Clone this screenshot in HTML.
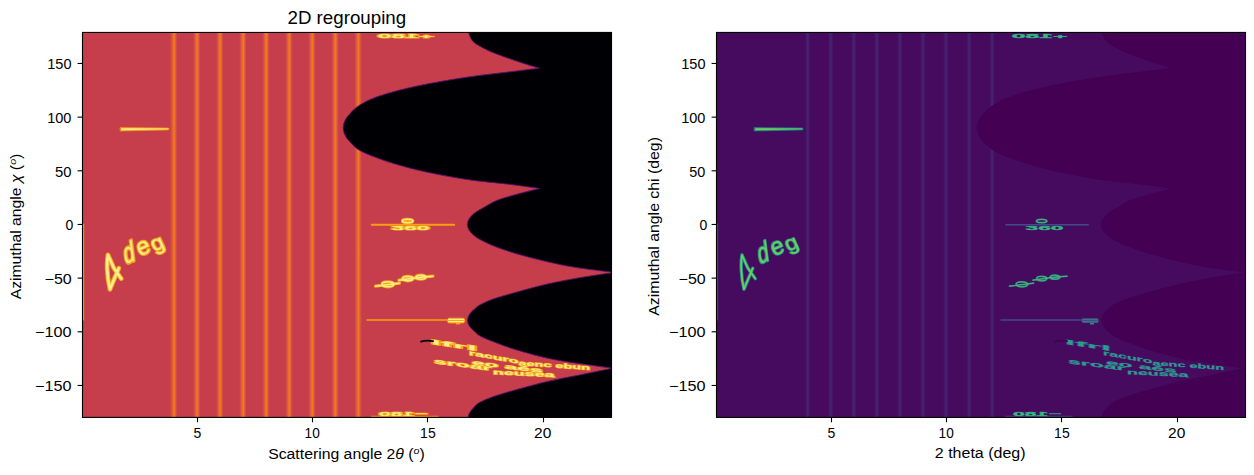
<!DOCTYPE html><html><head><meta charset="utf-8"><style>html,body{margin:0;padding:0;background:#fff;}svg{display:block;}text{font-family:"Liberation Sans",sans-serif;fill:#000;}</style></head><body>
<svg width="1254" height="475" viewBox="0 0 1254 475">
<defs>
<clipPath id="c1"><rect x="82.5" y="32.5" width="529" height="385"/></clipPath>
<clipPath id="c2"><rect x="716.5" y="32.5" width="529" height="385"/></clipPath>
<linearGradient id="gL" x1="0" x2="1" y1="0" y2="0"><stop offset="0" stop-color="#c63e4c"/><stop offset="0.22" stop-color="#d75247"/><stop offset="0.42" stop-color="#ec6c26"/><stop offset="0.58" stop-color="#f37a1a"/><stop offset="0.78" stop-color="#d9574a"/><stop offset="1" stop-color="#c63e4c"/></linearGradient>
<linearGradient id="gR" x1="0" x2="1" y1="0" y2="0"><stop offset="0" stop-color="#460b5e"/><stop offset="0.3" stop-color="#47186a"/><stop offset="0.5" stop-color="#482575"/><stop offset="0.7" stop-color="#47186a"/><stop offset="1" stop-color="#460b5e"/></linearGradient>
</defs>
<g clip-path="url(#c1)">
<rect x="82" y="32" width="531" height="387" fill="#c63e4c"/>
<rect x="170.00" y="30" width="7.4" height="390" fill="url(#gL)"/>
<rect x="193.05" y="30" width="7.4" height="390" fill="url(#gL)"/>
<rect x="216.10" y="30" width="7.4" height="390" fill="url(#gL)"/>
<rect x="239.15" y="30" width="7.4" height="390" fill="url(#gL)"/>
<rect x="262.20" y="30" width="7.4" height="390" fill="url(#gL)"/>
<rect x="285.25" y="30" width="7.4" height="390" fill="url(#gL)"/>
<rect x="308.30" y="30" width="7.4" height="390" fill="url(#gL)"/>
<rect x="331.35" y="30" width="7.4" height="390" fill="url(#gL)"/>
<rect x="354.40" y="30" width="7.4" height="390" fill="url(#gL)"/>
<path d="M700,20 L468.2,20 C468.22,21.33 468.23,26.00 468.30,28.00 C468.37,30.00 468.32,30.58 468.60,32.00 C468.88,33.42 469.27,34.92 470.00,36.50 C470.73,38.08 471.50,39.97 473.00,41.50 C474.50,43.03 475.90,43.95 479.00,45.70 C482.10,47.45 486.70,49.90 491.60,52.00 C496.50,54.10 502.08,56.08 508.40,58.30 C514.72,60.52 524.32,63.65 529.50,65.30 C534.68,66.95 537.83,67.72 539.50,68.20 C534.32,68.83 520.60,70.48 508.40,72.00 C496.20,73.52 480.33,75.20 466.30,77.30 C452.27,79.40 436.48,82.15 424.20,84.60 C411.92,87.05 401.37,89.62 392.60,92.00 C383.83,94.38 377.48,96.45 371.60,98.90 C365.72,101.35 361.22,103.88 357.30,106.70 C353.38,109.52 349.99,113.78 348.10,115.80 C346.20,117.82 346.57,117.80 345.95,118.80 C345.34,119.80 344.83,120.80 344.42,121.80 C344.02,122.80 343.71,123.80 343.51,124.80 C343.30,125.80 343.20,126.80 343.20,127.80 C343.20,128.80 343.30,129.80 343.51,130.80 C343.71,131.80 344.02,132.80 344.42,133.80 C344.83,134.80 345.34,135.80 345.95,136.80 C346.57,137.80 346.20,137.78 348.10,139.80 C349.99,141.82 353.38,146.23 357.30,148.90 C361.22,151.57 365.72,153.42 371.60,155.80 C377.48,158.18 383.83,160.57 392.60,163.20 C401.37,165.83 411.92,168.90 424.20,171.60 C436.48,174.30 452.27,177.30 466.30,179.40 C480.33,181.50 496.20,182.70 508.40,184.20 C520.60,185.70 534.32,187.70 539.50,188.40 C536.08,189.28 525.93,191.77 519.00,193.70 C512.07,195.63 503.77,197.72 497.90,200.00 C492.03,202.28 487.56,205.32 483.80,207.40 C480.04,209.48 477.31,211.15 475.32,212.50 C473.33,213.85 472.84,214.50 471.85,215.50 C470.86,216.50 470.04,217.50 469.38,218.50 C468.72,219.50 468.22,220.50 467.89,221.50 C467.56,222.50 467.40,223.50 467.40,224.50 C467.40,225.50 467.56,226.50 467.89,227.50 C468.22,228.50 468.72,229.50 469.38,230.50 C470.04,231.50 470.86,232.50 471.85,233.50 C472.84,234.50 474.05,235.55 475.32,236.50 C476.59,237.45 476.62,237.70 479.50,239.20 C482.38,240.70 486.90,243.22 492.60,245.50 C498.30,247.78 504.92,250.27 513.70,252.90 C522.48,255.53 534.78,258.85 545.30,261.30 C555.82,263.75 565.35,265.75 576.80,267.60 C588.25,269.45 607.80,271.60 614.00,272.40 C607.80,273.37 588.25,276.18 576.80,278.20 C565.35,280.22 555.82,282.05 545.30,284.50 C534.78,286.95 522.48,290.45 513.70,292.90 C504.92,295.35 498.35,297.13 492.60,299.20 C486.85,301.27 482.05,303.78 479.20,305.30 C476.35,306.82 476.71,307.30 475.52,308.30 C474.33,309.30 473.05,310.30 472.06,311.30 C471.06,312.30 470.24,313.30 469.58,314.30 C468.92,315.30 468.43,316.30 468.10,317.30 C467.77,318.30 467.60,319.30 467.60,320.30 C467.60,321.30 467.77,322.30 468.10,323.30 C468.43,324.30 468.92,325.30 469.58,326.30 C470.24,327.30 471.06,328.30 472.06,329.30 C473.05,330.30 474.20,331.18 475.52,332.30 C476.84,333.42 476.89,334.37 480.00,336.00 C483.11,337.63 488.22,339.82 494.20,342.10 C500.18,344.38 506.85,346.98 515.90,349.70 C524.95,352.42 537.65,356.05 548.50,358.40 C559.35,360.75 570.33,362.17 581.00,363.80 C591.67,365.43 607.25,367.47 612.50,368.20 C607.25,369.28 591.67,372.53 581.00,374.70 C570.33,376.87 559.35,378.68 548.50,381.20 C537.65,383.72 524.95,387.28 515.90,389.80 C506.85,392.32 500.35,394.13 494.20,396.30 C488.05,398.47 482.53,400.77 479.00,402.80 C475.47,404.83 474.53,406.88 473.00,408.50 C471.47,410.12 470.57,411.08 469.80,412.50 C469.03,413.92 468.67,414.08 468.40,417.00 C468.13,419.92 468.23,427.83 468.20,430.00 L700,430 Z" fill="#000004" stroke="#5a1070" stroke-width="0.9"/>
<g transform="translate(0,0)" stroke-linecap="round" stroke-linejoin="round" fill="none">
<path d="M120.4,127.6 L168.6,128.0 Q169.6,128.9 168.6,129.9 L120.4,131.0 Z" fill="#f8a516" stroke="#f8a516" stroke-width="0.6"/>
<path d="M121.3,128.3 L167.8,128.5 L167.8,129.3 L121.3,130.3 Z" fill="#f7ee8a" stroke="none"/>
<path d="M83.6,224 L83.6,320" stroke="#f9a00f" stroke-width="1.1"/>
<path d="M108.0,255.0 C106.6,262 106.8,277 110.0,289.2 M108.0,255.0 L113.8,268 L121.2,278.6 M110.0,289.2 L114.2,279 L118.8,268.2" stroke="#f8a516" stroke-width="4.8"/>
<path d="M108.0,255.0 C106.6,262 106.8,277 110.0,289.2 M108.0,255.0 L113.8,268 L121.2,278.6 M110.0,289.2 L114.2,279 L118.8,268.2" stroke="#f7ee8a" stroke-width="2.7"/>
<text transform="translate(125.0,264.2) scale(1,1.5) rotate(-14) skewX(-3)" font-size="19.5" style="fill:#f7ee8a;stroke:#f8a516;stroke-width:2.3;paint-order:stroke">d</text>
<text transform="translate(139.8,256.5) scale(1.05,1.12) rotate(-22)" font-size="22" style="fill:#f7ee8a;stroke:#f8a516;stroke-width:2.3;paint-order:stroke">e</text>
<text transform="translate(154.0,251.5) scale(1.05,0.93) rotate(-22)" font-size="22" style="fill:#f7ee8a;stroke:#f8a516;stroke-width:2.3;paint-order:stroke">g</text>
<text transform="translate(405.6,37.6) scale(-1,0.42)" font-size="14" font-weight="bold" text-anchor="middle" textLength="56" lengthAdjust="spacingAndGlyphs" style="fill:#f7ee8a;stroke:#f8a516;stroke-width:2.56;paint-order:stroke">+180</text>
<path d="M371.5,416.3 L438.2,416.3" stroke="#f9a00f" stroke-width="1.0"/>
<text transform="translate(402.8,416.4) scale(-1,0.44)" font-size="14" font-weight="bold" text-anchor="middle" textLength="48" lengthAdjust="spacingAndGlyphs" style="fill:#f7ee8a;stroke:#f8a516;stroke-width:2.56;paint-order:stroke">−180</text>
<path d="M371.8,224.8 L454.2,224.8" stroke="#f9a00f" stroke-width="1.9"/>
<ellipse cx="407.6" cy="221.0" rx="5.2" ry="1.7" stroke="#f8a516" stroke-width="3.1999999999999997"/>
<ellipse cx="407.6" cy="221.0" rx="5.2" ry="1.7" stroke="#f7ee8a" stroke-width="1.6"/>
<text transform="translate(410.5,229.6) scale(1,0.42)" font-size="14" font-weight="bold" text-anchor="middle" textLength="38" lengthAdjust="spacingAndGlyphs" style="fill:#f7ee8a;stroke:#f8a516;stroke-width:2.56;paint-order:stroke">360</text>
<path d="M375.5,286.2 L399.5,283.2 M394,284.3 A6,2.5 0 1 0 382,284.3 A6,2.5 0 1 0 394,284.3 M399,280.2 Q416,277.2 433,276.2 M413,278.6 A5.2,2.2 0 1 0 402.6,278.6 A5.2,2.2 0 1 0 413,278.6 M426,277.2 A5,2 0 1 0 416,277.2 A5,2 0 1 0 426,277.2" stroke="#f8a516" stroke-width="3.1999999999999997"/>
<path d="M375.5,286.2 L399.5,283.2 M394,284.3 A6,2.5 0 1 0 382,284.3 A6,2.5 0 1 0 394,284.3 M399,280.2 Q416,277.2 433,276.2 M413,278.6 A5.2,2.2 0 1 0 402.6,278.6 A5.2,2.2 0 1 0 413,278.6 M426,277.2 A5,2 0 1 0 416,277.2 A5,2 0 1 0 426,277.2" stroke="#f7ee8a" stroke-width="1.5000000000000002"/>
<path d="M367,320.1 L447,320.1" stroke="#f9a00f" stroke-width="1.5"/>
<rect x="447.4" y="318.2" width="17.4" height="4.8" rx="2.2" fill="#f8a516" stroke="#f8a516" stroke-width="0.8"/>
<path d="M448.6,319.3 L463.6,319.3 M448.6,321.7 L463.6,321.7" stroke="#f7ee8a" stroke-width="1.3000000000000003"/>
<path d="M456.5,323.8 L459.5,323.8" stroke="#f8a516" stroke-width="1.4"/>
<text transform="translate(431,344.0) skewY(8.65) scale(1,0.45)" font-size="15" font-weight="bold" textLength="46.0" lengthAdjust="spacingAndGlyphs" style="fill:#f7ee8a;stroke:#f8a516;stroke-width:2.2;paint-order:stroke">Ifrl</text>
<text transform="translate(469,355.0) skewY(9.86) scale(1,0.45)" font-size="15" font-weight="bold" textLength="49.5" lengthAdjust="spacingAndGlyphs" style="fill:#f7ee8a;stroke:#f8a516;stroke-width:2.2;paint-order:stroke">racuro</text>
<text transform="translate(518.5,365.2) skewY(3.84) scale(1,0.45)" font-size="15" font-weight="bold" textLength="71.5" lengthAdjust="spacingAndGlyphs" style="fill:#f7ee8a;stroke:#f8a516;stroke-width:2.2;paint-order:stroke">aenc ebun</text>
<text transform="translate(434,363.2) skewY(7.53) scale(1,0.45)" font-size="15" font-weight="bold" textLength="57.5" lengthAdjust="spacingAndGlyphs" style="fill:#f7ee8a;stroke:#f8a516;stroke-width:2.2;paint-order:stroke">sroar</text>
<text transform="translate(472,364.6) skewY(6.79) scale(1,0.45)" font-size="15" font-weight="bold" textLength="70.5" lengthAdjust="spacingAndGlyphs" style="fill:#f7ee8a;stroke:#f8a516;stroke-width:2.2;paint-order:stroke">eo aés</text>
<text transform="translate(493,374.2) skewY(2.79) scale(1,0.45)" font-size="15" font-weight="bold" textLength="61.5" lengthAdjust="spacingAndGlyphs" style="fill:#f7ee8a;stroke:#f8a516;stroke-width:2.2;paint-order:stroke">neusea</text>
<path d="M421,341.6 Q427,340.0 433,341.2" stroke="#000004" stroke-width="1.8"/>
</g>
</g>
<g clip-path="url(#c2)">
<rect x="716" y="32" width="531" height="387" fill="#460b5e"/>
<rect x="804.90" y="30" width="5.6" height="390" fill="url(#gR)"/>
<rect x="827.95" y="30" width="5.6" height="390" fill="url(#gR)"/>
<rect x="851.00" y="30" width="5.6" height="390" fill="url(#gR)"/>
<rect x="874.05" y="30" width="5.6" height="390" fill="url(#gR)"/>
<rect x="897.10" y="30" width="5.6" height="390" fill="url(#gR)"/>
<rect x="920.15" y="30" width="5.6" height="390" fill="url(#gR)"/>
<rect x="943.20" y="30" width="5.6" height="390" fill="url(#gR)"/>
<rect x="966.25" y="30" width="5.6" height="390" fill="url(#gR)"/>
<rect x="989.30" y="30" width="5.6" height="390" fill="url(#gR)"/>
<path d="M1334,20 L1102.2,20 C1102.22,21.33 1102.23,26.00 1102.30,28.00 C1102.37,30.00 1102.32,30.58 1102.60,32.00 C1102.88,33.42 1103.27,34.92 1104.00,36.50 C1104.73,38.08 1105.50,39.97 1107.00,41.50 C1108.50,43.03 1109.90,43.95 1113.00,45.70 C1116.10,47.45 1120.70,49.90 1125.60,52.00 C1130.50,54.10 1136.08,56.08 1142.40,58.30 C1148.72,60.52 1158.32,63.65 1163.50,65.30 C1168.68,66.95 1171.83,67.72 1173.50,68.20 C1168.32,68.83 1154.60,70.48 1142.40,72.00 C1130.20,73.52 1114.33,75.20 1100.30,77.30 C1086.27,79.40 1070.48,82.15 1058.20,84.60 C1045.92,87.05 1035.37,89.62 1026.60,92.00 C1017.83,94.38 1011.48,96.45 1005.60,98.90 C999.72,101.35 995.22,103.88 991.30,106.70 C987.38,109.52 983.99,113.78 982.10,115.80 C980.21,117.82 980.57,117.80 979.95,118.80 C979.34,119.80 978.83,120.80 978.42,121.80 C978.02,122.80 977.71,123.80 977.51,124.80 C977.30,125.80 977.20,126.80 977.20,127.80 C977.20,128.80 977.30,129.80 977.51,130.80 C977.71,131.80 978.02,132.80 978.42,133.80 C978.83,134.80 979.34,135.80 979.95,136.80 C980.57,137.80 980.21,137.78 982.10,139.80 C983.99,141.82 987.38,146.23 991.30,148.90 C995.22,151.57 999.72,153.42 1005.60,155.80 C1011.48,158.18 1017.83,160.57 1026.60,163.20 C1035.37,165.83 1045.92,168.90 1058.20,171.60 C1070.48,174.30 1086.27,177.30 1100.30,179.40 C1114.33,181.50 1130.20,182.70 1142.40,184.20 C1154.60,185.70 1168.32,187.70 1173.50,188.40 C1170.08,189.28 1159.93,191.77 1153.00,193.70 C1146.07,195.63 1137.77,197.72 1131.90,200.00 C1126.03,202.28 1121.56,205.32 1117.80,207.40 C1114.04,209.48 1111.31,211.15 1109.32,212.50 C1107.33,213.85 1106.85,214.50 1105.86,215.50 C1104.87,216.50 1104.04,217.50 1103.38,218.50 C1102.72,219.50 1102.22,220.50 1101.89,221.50 C1101.57,222.50 1101.40,223.50 1101.40,224.50 C1101.40,225.50 1101.57,226.50 1101.89,227.50 C1102.22,228.50 1102.72,229.50 1103.38,230.50 C1104.04,231.50 1104.87,232.50 1105.86,233.50 C1106.85,234.50 1108.05,235.55 1109.32,236.50 C1110.59,237.45 1110.62,237.70 1113.50,239.20 C1116.38,240.70 1120.90,243.22 1126.60,245.50 C1132.30,247.78 1138.92,250.27 1147.70,252.90 C1156.48,255.53 1168.78,258.85 1179.30,261.30 C1189.82,263.75 1199.35,265.75 1210.80,267.60 C1222.25,269.45 1241.80,271.60 1248.00,272.40 C1241.80,273.37 1222.25,276.18 1210.80,278.20 C1199.35,280.22 1189.82,282.05 1179.30,284.50 C1168.78,286.95 1156.48,290.45 1147.70,292.90 C1138.92,295.35 1132.35,297.13 1126.60,299.20 C1120.85,301.27 1116.05,303.78 1113.20,305.30 C1110.35,306.82 1110.71,307.30 1109.52,308.30 C1108.33,309.30 1107.05,310.30 1106.06,311.30 C1105.07,312.30 1104.24,313.30 1103.58,314.30 C1102.92,315.30 1102.42,316.30 1102.10,317.30 C1101.77,318.30 1101.60,319.30 1101.60,320.30 C1101.60,321.30 1101.77,322.30 1102.10,323.30 C1102.42,324.30 1102.92,325.30 1103.58,326.30 C1104.24,327.30 1105.07,328.30 1106.06,329.30 C1107.05,330.30 1108.20,331.18 1109.52,332.30 C1110.84,333.42 1110.89,334.37 1114.00,336.00 C1117.11,337.63 1122.22,339.82 1128.20,342.10 C1134.18,344.38 1140.85,346.98 1149.90,349.70 C1158.95,352.42 1171.65,356.05 1182.50,358.40 C1193.35,360.75 1204.33,362.17 1215.00,363.80 C1225.67,365.43 1241.25,367.47 1246.50,368.20 C1241.25,369.28 1225.67,372.53 1215.00,374.70 C1204.33,376.87 1193.35,378.68 1182.50,381.20 C1171.65,383.72 1158.95,387.28 1149.90,389.80 C1140.85,392.32 1134.35,394.13 1128.20,396.30 C1122.05,398.47 1116.53,400.77 1113.00,402.80 C1109.47,404.83 1108.53,406.88 1107.00,408.50 C1105.47,410.12 1104.57,411.08 1103.80,412.50 C1103.03,413.92 1102.67,414.08 1102.40,417.00 C1102.13,419.92 1102.23,427.83 1102.20,430.00 L1334,430 Z" fill="#440154" stroke="#440154" stroke-width="0.9"/>
<g transform="translate(634,0)" stroke-linecap="round" stroke-linejoin="round" fill="none">
<path d="M120.4,127.6 L168.6,128.0 Q169.6,128.9 168.6,129.9 L120.4,131.0 Z" fill="#20928c" stroke="#20928c" stroke-width="0.6"/>
<path d="M121.3,128.3 L167.8,128.5 L167.8,129.3 L121.3,130.3 Z" fill="#6ccd5a" stroke="none"/>
<path d="M83.6,224 L83.6,320" stroke="#3f4a8a" stroke-width="1.1"/>
<path d="M108.0,255.0 C106.6,262 106.8,277 110.0,289.2 M108.0,255.0 L113.8,268 L121.2,278.6 M110.0,289.2 L114.2,279 L118.8,268.2" stroke="#20928c" stroke-width="3.4"/>
<path d="M108.0,255.0 C106.6,262 106.8,277 110.0,289.2 M108.0,255.0 L113.8,268 L121.2,278.6 M110.0,289.2 L114.2,279 L118.8,268.2" stroke="#6ccd5a" stroke-width="1.7"/>
<text transform="translate(125.0,264.2) scale(1,1.5) rotate(-14) skewX(-3)" font-size="19.5" style="fill:#6ccd5a;stroke:#20928c;stroke-width:1.6;paint-order:stroke">d</text>
<text transform="translate(139.8,256.5) scale(1.05,1.12) rotate(-22)" font-size="22" style="fill:#6ccd5a;stroke:#20928c;stroke-width:1.6;paint-order:stroke">e</text>
<text transform="translate(154.0,251.5) scale(1.05,0.93) rotate(-22)" font-size="22" style="fill:#6ccd5a;stroke:#20928c;stroke-width:1.6;paint-order:stroke">g</text>
<text transform="translate(405.6,37.6) scale(-1,0.42)" font-size="14" font-weight="bold" text-anchor="middle" textLength="56" lengthAdjust="spacingAndGlyphs" style="fill:#3db57a;stroke:#20928c;stroke-width:0.9;paint-order:stroke">+180</text>
<path d="M371.5,416.3 L438.2,416.3" stroke="#3f4a8a" stroke-width="1.0"/>
<text transform="translate(402.8,416.4) scale(-1,0.44)" font-size="14" font-weight="bold" text-anchor="middle" textLength="48" lengthAdjust="spacingAndGlyphs" style="fill:#3db57a;stroke:#20928c;stroke-width:0.9;paint-order:stroke">−180</text>
<path d="M371.8,224.8 L454.2,224.8" stroke="#3f4a8a" stroke-width="1.6"/>
<ellipse cx="407.6" cy="221.0" rx="5.2" ry="1.7" stroke="#20928c" stroke-width="1.7999999999999998"/>
<ellipse cx="407.6" cy="221.0" rx="5.2" ry="1.7" stroke="#6ccd5a" stroke-width="0.6"/>
<text transform="translate(410.5,229.6) scale(1,0.42)" font-size="14" font-weight="bold" text-anchor="middle" textLength="38" lengthAdjust="spacingAndGlyphs" style="fill:#3db57a;stroke:#20928c;stroke-width:0.9;paint-order:stroke">360</text>
<path d="M375.5,286.2 L399.5,283.2 M394,284.3 A6,2.5 0 1 0 382,284.3 A6,2.5 0 1 0 394,284.3 M399,280.2 Q416,277.2 433,276.2 M413,278.6 A5.2,2.2 0 1 0 402.6,278.6 A5.2,2.2 0 1 0 413,278.6 M426,277.2 A5,2 0 1 0 416,277.2 A5,2 0 1 0 426,277.2" stroke="#20928c" stroke-width="1.7999999999999998"/>
<path d="M375.5,286.2 L399.5,283.2 M394,284.3 A6,2.5 0 1 0 382,284.3 A6,2.5 0 1 0 394,284.3 M399,280.2 Q416,277.2 433,276.2 M413,278.6 A5.2,2.2 0 1 0 402.6,278.6 A5.2,2.2 0 1 0 413,278.6 M426,277.2 A5,2 0 1 0 416,277.2 A5,2 0 1 0 426,277.2" stroke="#6ccd5a" stroke-width="0.5"/>
<path d="M367,320.1 L447,320.1" stroke="#3f4a8a" stroke-width="1.5"/>
<rect x="447.4" y="318.2" width="17.4" height="4.8" rx="2.2" fill="#3b528b" stroke="none" stroke-width="0.8"/>
<path d="M448.6,319.3 L463.6,319.3 M448.6,321.7 L463.6,321.7" stroke="#6ccd5a" stroke-width="0.29999999999999993"/>
<path d="M456.5,323.8 L459.5,323.8" stroke="#20928c" stroke-width="1.4"/>
<text transform="translate(431,344.0) skewY(8.65) scale(1,0.45)" font-size="15" font-weight="bold" textLength="46.0" lengthAdjust="spacingAndGlyphs" style="fill:#2a9d88;stroke:#3b528b;stroke-width:1.0;paint-order:stroke">Ifrl</text>
<text transform="translate(469,355.0) skewY(9.86) scale(1,0.45)" font-size="15" font-weight="bold" textLength="49.5" lengthAdjust="spacingAndGlyphs" style="fill:#2a9d88;stroke:#3b528b;stroke-width:1.0;paint-order:stroke">racuro</text>
<text transform="translate(518.5,365.2) skewY(3.84) scale(1,0.45)" font-size="15" font-weight="bold" textLength="71.5" lengthAdjust="spacingAndGlyphs" style="fill:#2a9d88;stroke:#3b528b;stroke-width:1.0;paint-order:stroke">aenc ebun</text>
<text transform="translate(434,363.2) skewY(7.53) scale(1,0.45)" font-size="15" font-weight="bold" textLength="57.5" lengthAdjust="spacingAndGlyphs" style="fill:#2a9d88;stroke:#3b528b;stroke-width:1.0;paint-order:stroke">sroar</text>
<text transform="translate(472,364.6) skewY(6.79) scale(1,0.45)" font-size="15" font-weight="bold" textLength="70.5" lengthAdjust="spacingAndGlyphs" style="fill:#2a9d88;stroke:#3b528b;stroke-width:1.0;paint-order:stroke">eo aés</text>
<text transform="translate(493,374.2) skewY(2.79) scale(1,0.45)" font-size="15" font-weight="bold" textLength="61.5" lengthAdjust="spacingAndGlyphs" style="fill:#2a9d88;stroke:#3b528b;stroke-width:1.0;paint-order:stroke">neusea</text>
<path d="M421,341.6 Q427,340.0 433,341.2" stroke="#440154" stroke-width="1.8"/>
</g>
</g>
<rect x="82.5" y="32.45" width="529" height="384.95" fill="none" stroke="#000" stroke-width="1.11"/>
<line x1="197.50" y1="417.4" x2="197.50" y2="422.3" stroke="#000" stroke-width="1.11"/>
<line x1="312.50" y1="417.4" x2="312.50" y2="422.3" stroke="#000" stroke-width="1.11"/>
<line x1="427.50" y1="417.4" x2="427.50" y2="422.3" stroke="#000" stroke-width="1.11"/>
<line x1="543.50" y1="417.4" x2="543.50" y2="422.3" stroke="#000" stroke-width="1.11"/>
<line x1="77.6" y1="63.47" x2="82.5" y2="63.47" stroke="#000" stroke-width="1.11"/>
<line x1="77.6" y1="117.14" x2="82.5" y2="117.14" stroke="#000" stroke-width="1.11"/>
<line x1="77.6" y1="170.80" x2="82.5" y2="170.80" stroke="#000" stroke-width="1.11"/>
<line x1="77.6" y1="224.47" x2="82.5" y2="224.47" stroke="#000" stroke-width="1.11"/>
<line x1="77.6" y1="278.14" x2="82.5" y2="278.14" stroke="#000" stroke-width="1.11"/>
<line x1="77.6" y1="331.80" x2="82.5" y2="331.80" stroke="#000" stroke-width="1.11"/>
<line x1="77.6" y1="385.47" x2="82.5" y2="385.47" stroke="#000" stroke-width="1.11"/>
<rect x="716.5" y="32.45" width="529" height="384.95" fill="none" stroke="#000" stroke-width="1.11"/>
<line x1="831.50" y1="417.4" x2="831.50" y2="422.3" stroke="#000" stroke-width="1.11"/>
<line x1="946.50" y1="417.4" x2="946.50" y2="422.3" stroke="#000" stroke-width="1.11"/>
<line x1="1061.50" y1="417.4" x2="1061.50" y2="422.3" stroke="#000" stroke-width="1.11"/>
<line x1="1177.50" y1="417.4" x2="1177.50" y2="422.3" stroke="#000" stroke-width="1.11"/>
<line x1="711.6" y1="63.47" x2="716.5" y2="63.47" stroke="#000" stroke-width="1.11"/>
<line x1="711.6" y1="117.14" x2="716.5" y2="117.14" stroke="#000" stroke-width="1.11"/>
<line x1="711.6" y1="170.80" x2="716.5" y2="170.80" stroke="#000" stroke-width="1.11"/>
<line x1="711.6" y1="224.47" x2="716.5" y2="224.47" stroke="#000" stroke-width="1.11"/>
<line x1="711.6" y1="278.14" x2="716.5" y2="278.14" stroke="#000" stroke-width="1.11"/>
<line x1="711.6" y1="331.80" x2="716.5" y2="331.80" stroke="#000" stroke-width="1.11"/>
<line x1="711.6" y1="385.47" x2="716.5" y2="385.47" stroke="#000" stroke-width="1.11"/>
<text id="t_Lx5" x="197.32" y="438.00" font-size="14.00" text-anchor="middle" textLength="7.80" lengthAdjust="spacingAndGlyphs">5</text>
<text id="t_Lx10" x="312.16" y="438.00" font-size="14.00" text-anchor="middle" textLength="15.17" lengthAdjust="spacingAndGlyphs">10</text>
<text id="t_Lx15" x="427.90" y="438.00" font-size="14.00" text-anchor="middle" textLength="15.58" lengthAdjust="spacingAndGlyphs">15</text>
<text id="t_Lx20" x="542.74" y="438.00" font-size="14.00" text-anchor="middle" textLength="17.27" lengthAdjust="spacingAndGlyphs">20</text>
<text id="t_Ly150" x="59.40" y="69.07" font-size="14.00" text-anchor="middle" textLength="24.21" lengthAdjust="spacingAndGlyphs">150</text>
<text id="t_Ly100" x="59.35" y="122.74" font-size="14.00" text-anchor="middle" textLength="24.21" lengthAdjust="spacingAndGlyphs">100</text>
<text id="t_Ly50" x="63.33" y="177.10" font-size="14.00" text-anchor="middle" textLength="16.46" lengthAdjust="spacingAndGlyphs">50</text>
<text id="t_Ly0" x="69.36" y="230.07" font-size="14.00" text-anchor="middle" textLength="7.80" lengthAdjust="spacingAndGlyphs">0</text>
<text id="t_Ly-50" x="58.18" y="283.74" font-size="14.00" text-anchor="middle" textLength="27.18" lengthAdjust="spacingAndGlyphs">−50</text>
<text id="t_Ly-100" x="53.28" y="336.70" font-size="14.00" text-anchor="middle" textLength="36.52" lengthAdjust="spacingAndGlyphs">−100</text>
<text id="t_Ly-150" x="53.31" y="391.07" font-size="14.00" text-anchor="middle" textLength="36.52" lengthAdjust="spacingAndGlyphs">−150</text>
<text id="t_Rx5" x="831.32" y="438.00" font-size="14.00" text-anchor="middle" textLength="7.80" lengthAdjust="spacingAndGlyphs">5</text>
<text id="t_Rx10" x="946.16" y="438.00" font-size="14.00" text-anchor="middle" textLength="15.17" lengthAdjust="spacingAndGlyphs">10</text>
<text id="t_Rx15" x="1061.90" y="438.00" font-size="14.00" text-anchor="middle" textLength="15.58" lengthAdjust="spacingAndGlyphs">15</text>
<text id="t_Rx20" x="1176.74" y="438.00" font-size="14.00" text-anchor="middle" textLength="17.27" lengthAdjust="spacingAndGlyphs">20</text>
<text id="t_Ry150" x="693.40" y="69.07" font-size="14.00" text-anchor="middle" textLength="24.21" lengthAdjust="spacingAndGlyphs">150</text>
<text id="t_Ry100" x="693.35" y="122.74" font-size="14.00" text-anchor="middle" textLength="24.21" lengthAdjust="spacingAndGlyphs">100</text>
<text id="t_Ry50" x="697.36" y="177.10" font-size="14.00" text-anchor="middle" textLength="16.06" lengthAdjust="spacingAndGlyphs">50</text>
<text id="t_Ry0" x="703.27" y="230.07" font-size="14.00" text-anchor="middle" textLength="7.78" lengthAdjust="spacingAndGlyphs">0</text>
<text id="t_Ry-50" x="692.15" y="283.74" font-size="14.00" text-anchor="middle" textLength="27.13" lengthAdjust="spacingAndGlyphs">−50</text>
<text id="t_Ry-100" x="687.28" y="336.70" font-size="14.00" text-anchor="middle" textLength="36.52" lengthAdjust="spacingAndGlyphs">−100</text>
<text id="t_Ry-150" x="687.31" y="391.07" font-size="14.00" text-anchor="middle" textLength="36.52" lengthAdjust="spacingAndGlyphs">−150</text>
<text id="t_title" x="346.81" y="24.00" font-size="17.80" text-anchor="middle" textLength="118.66" lengthAdjust="spacingAndGlyphs">2D regrouping</text>
<text id="t_Lxl" x="346.51" y="458.60" font-size="14.00" text-anchor="middle" textLength="156.67" lengthAdjust="spacingAndGlyphs">Scattering angle 2<tspan font-style="italic">θ</tspan> (<tspan font-size="9.5" font-style="italic" dy="-5">o</tspan><tspan dy="5">)</tspan></text>
<text id="t_Rxl" x="980.17" y="458.30" font-size="14.00" text-anchor="middle" textLength="90.73" lengthAdjust="spacingAndGlyphs">2 theta (deg)</text>
<text id="t_Lyl" transform="translate(21.30,226.51) rotate(-90)" font-size="14.00" text-anchor="middle" textLength="145.69" lengthAdjust="spacingAndGlyphs">Azimuthal angle <tspan font-style="italic">χ</tspan> (<tspan font-size="9.5" font-style="italic" dy="-5">o</tspan><tspan dy="5">)</tspan></text>
<text id="t_Ryl" transform="translate(659.20,226.39) rotate(-90)" font-size="14.00" text-anchor="middle" textLength="178.70" lengthAdjust="spacingAndGlyphs">Azimuthal angle chi (deg)</text>
</svg></body></html>
